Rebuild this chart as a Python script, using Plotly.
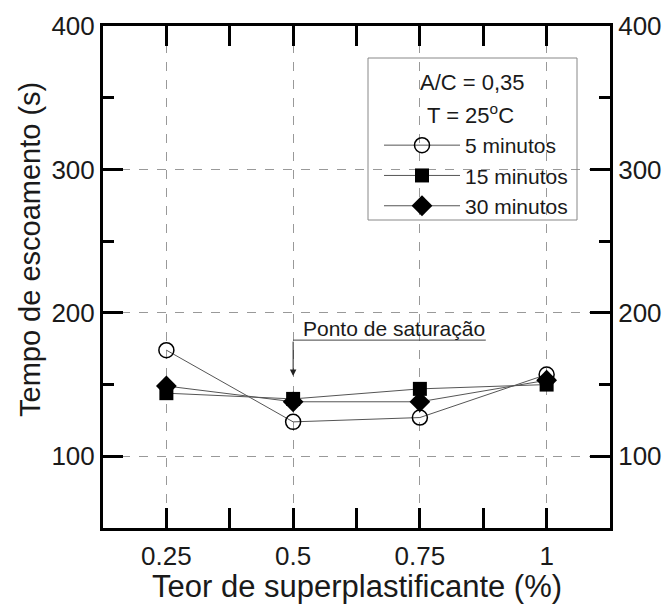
import plotly.graph_objects as go

x_vals = [0.25, 0.5, 0.75, 1.0]
t5 = [174, 124, 127, 157]
t15 = [144, 140, 147, 150]
t30 = [149, 138, 138, 153]
series_names = ["5 minutos", "15 minutos", "30 minutos"]
x_ticks = [0.25, 0.5, 0.75, 1.0]
x_ticklabels = ["0.25", "0.5", "0.75", "1"]
y_ticks = [100, 200, 300, 400]

FONT = "Liberation Sans, Arial, sans-serif"
LINE_COL = "#555555"
TXT = "#1a1a1a"
L, R, T, B = 103, 610, 26, 528
PW, PH = R - L, B - T

def px(x):
    return (x - L) / PW

def py(y):
    return (B - y) / PH

fig = go.Figure()
fig.add_trace(go.Scatter(x=x_vals, y=t5, name=series_names[0], mode="lines+markers",
                         line=dict(color=LINE_COL, width=1),
                         marker=dict(symbol="circle-open", size=15, color="black", line=dict(width=1.5)),
                         legendrank=1))
fig.add_trace(go.Scatter(x=x_vals, y=t30, name=series_names[2], mode="lines+markers",
                         line=dict(color=LINE_COL, width=1),
                         marker=dict(symbol="diamond", size=16, color="black"),
                         legendrank=3))
fig.add_trace(go.Scatter(x=x_vals, y=t15, name=series_names[1], mode="lines+markers",
                         line=dict(color=LINE_COL, width=1),
                         marker=dict(symbol="square", size=14, color="black"),
                         legendrank=2))
# invisible trace for the right axis
fig.add_trace(go.Scatter(x=[x_vals[0]], y=[y_ticks[0]], yaxis="y2", showlegend=False,
                         mode="markers", marker=dict(opacity=0), hoverinfo="skip"))

axis_common = dict(showline=True, linecolor="black", linewidth=3, ticks="inside",
                   ticklen=20, tickwidth=3, tickcolor="black", automargin=False,
                   tickfont=dict(family=FONT, size=26, color=TXT), zeroline=False)

fig.update_layout(
    width=665, height=604,
    margin=dict(l=L, r=665 - R, t=T, b=604 - B),
    plot_bgcolor="white", paper_bgcolor="white",
    font=dict(family=FONT, color=TXT),
    xaxis=dict(range=[0.125, 1.125], tickvals=x_ticks, ticktext=x_ticklabels,
               mirror="allticks", showgrid=True, gridcolor="#999", griddash="dash", gridwidth=1,
               minor=dict(ticks="inside", ticklen=11, tickwidth=3, tickcolor="black", dtick=0.25, tick0=0.125),
               ticklabelstandoff=3,
               **axis_common),
    yaxis=dict(range=[50, 400], tickvals=y_ticks, mirror="allticks",
               showgrid=True, gridcolor="#999", griddash="dash", gridwidth=1,
               minor=dict(ticks="inside", ticklen=11, tickwidth=3, tickcolor="black", dtick=100, tick0=50),
               **axis_common),
    yaxis2=dict(range=[50, 400], tickvals=y_ticks, overlaying="y", side="right", showgrid=False,
                minor=dict(ticks="inside", ticklen=11, tickwidth=3, tickcolor="black", dtick=100, tick0=50),
                **axis_common),
    showlegend=True,
    legend=dict(x=px(379), y=py(125), xanchor="left", yanchor="top", bgcolor="rgba(0,0,0,0)",
                font=dict(family=FONT, size=21, color=TXT), itemwidth=76, tracegroupgap=0),
)

# axis titles
fig.add_annotation(xref="paper", yref="paper", x=px(356.5), y=py(586), text="Teor de superplastificante (%)",
                   showarrow=False, xanchor="center", yanchor="middle",
                   font=dict(family=FONT, size=31, color=TXT))
fig.add_annotation(xref="paper", yref="paper", x=px(30), y=py(250), text="Tempo de escoamento (s)",
                   showarrow=False, xanchor="center", yanchor="middle", textangle=-90,
                   font=dict(family=FONT, size=29, color=TXT))

# legend box and header text
fig.add_shape(type="rect", xref="paper", yref="paper",
              x0=px(368), x1=px(577), y0=py(220), y1=py(58),
              line=dict(color="#888", width=1), fillcolor="rgba(0,0,0,0)")
fig.add_annotation(xref="paper", yref="paper", x=px(472), y=py(82), text="A/C = 0,35",
                   showarrow=False, font=dict(family=FONT, size=22, color=TXT), xanchor="center", yanchor="middle")
fig.add_annotation(xref="paper", yref="paper", x=px(470), y=py(114), text="T = 25<sup>o</sup>C",
                   showarrow=False, font=dict(family=FONT, size=22, color=TXT), xanchor="center", yanchor="middle")

# saturation point annotation
fig.add_shape(type="line", x0=0.5, x1=0.88, y0=181, y1=181, line=dict(color="#444", width=1))
fig.add_annotation(x=0.5, y=156, ax=0.5, ay=181, axref="x", ayref="y", xref="x", yref="y",
                   showarrow=True, arrowhead=2, arrowsize=1.3, arrowwidth=1, arrowcolor="#222", text="")
fig.add_annotation(x=0.515, y=189, text="Ponto de saturação", showarrow=False, xanchor="left", yanchor="middle",
                   font=dict(family=FONT, size=21, color=TXT))

fig.write_html("out.html")
